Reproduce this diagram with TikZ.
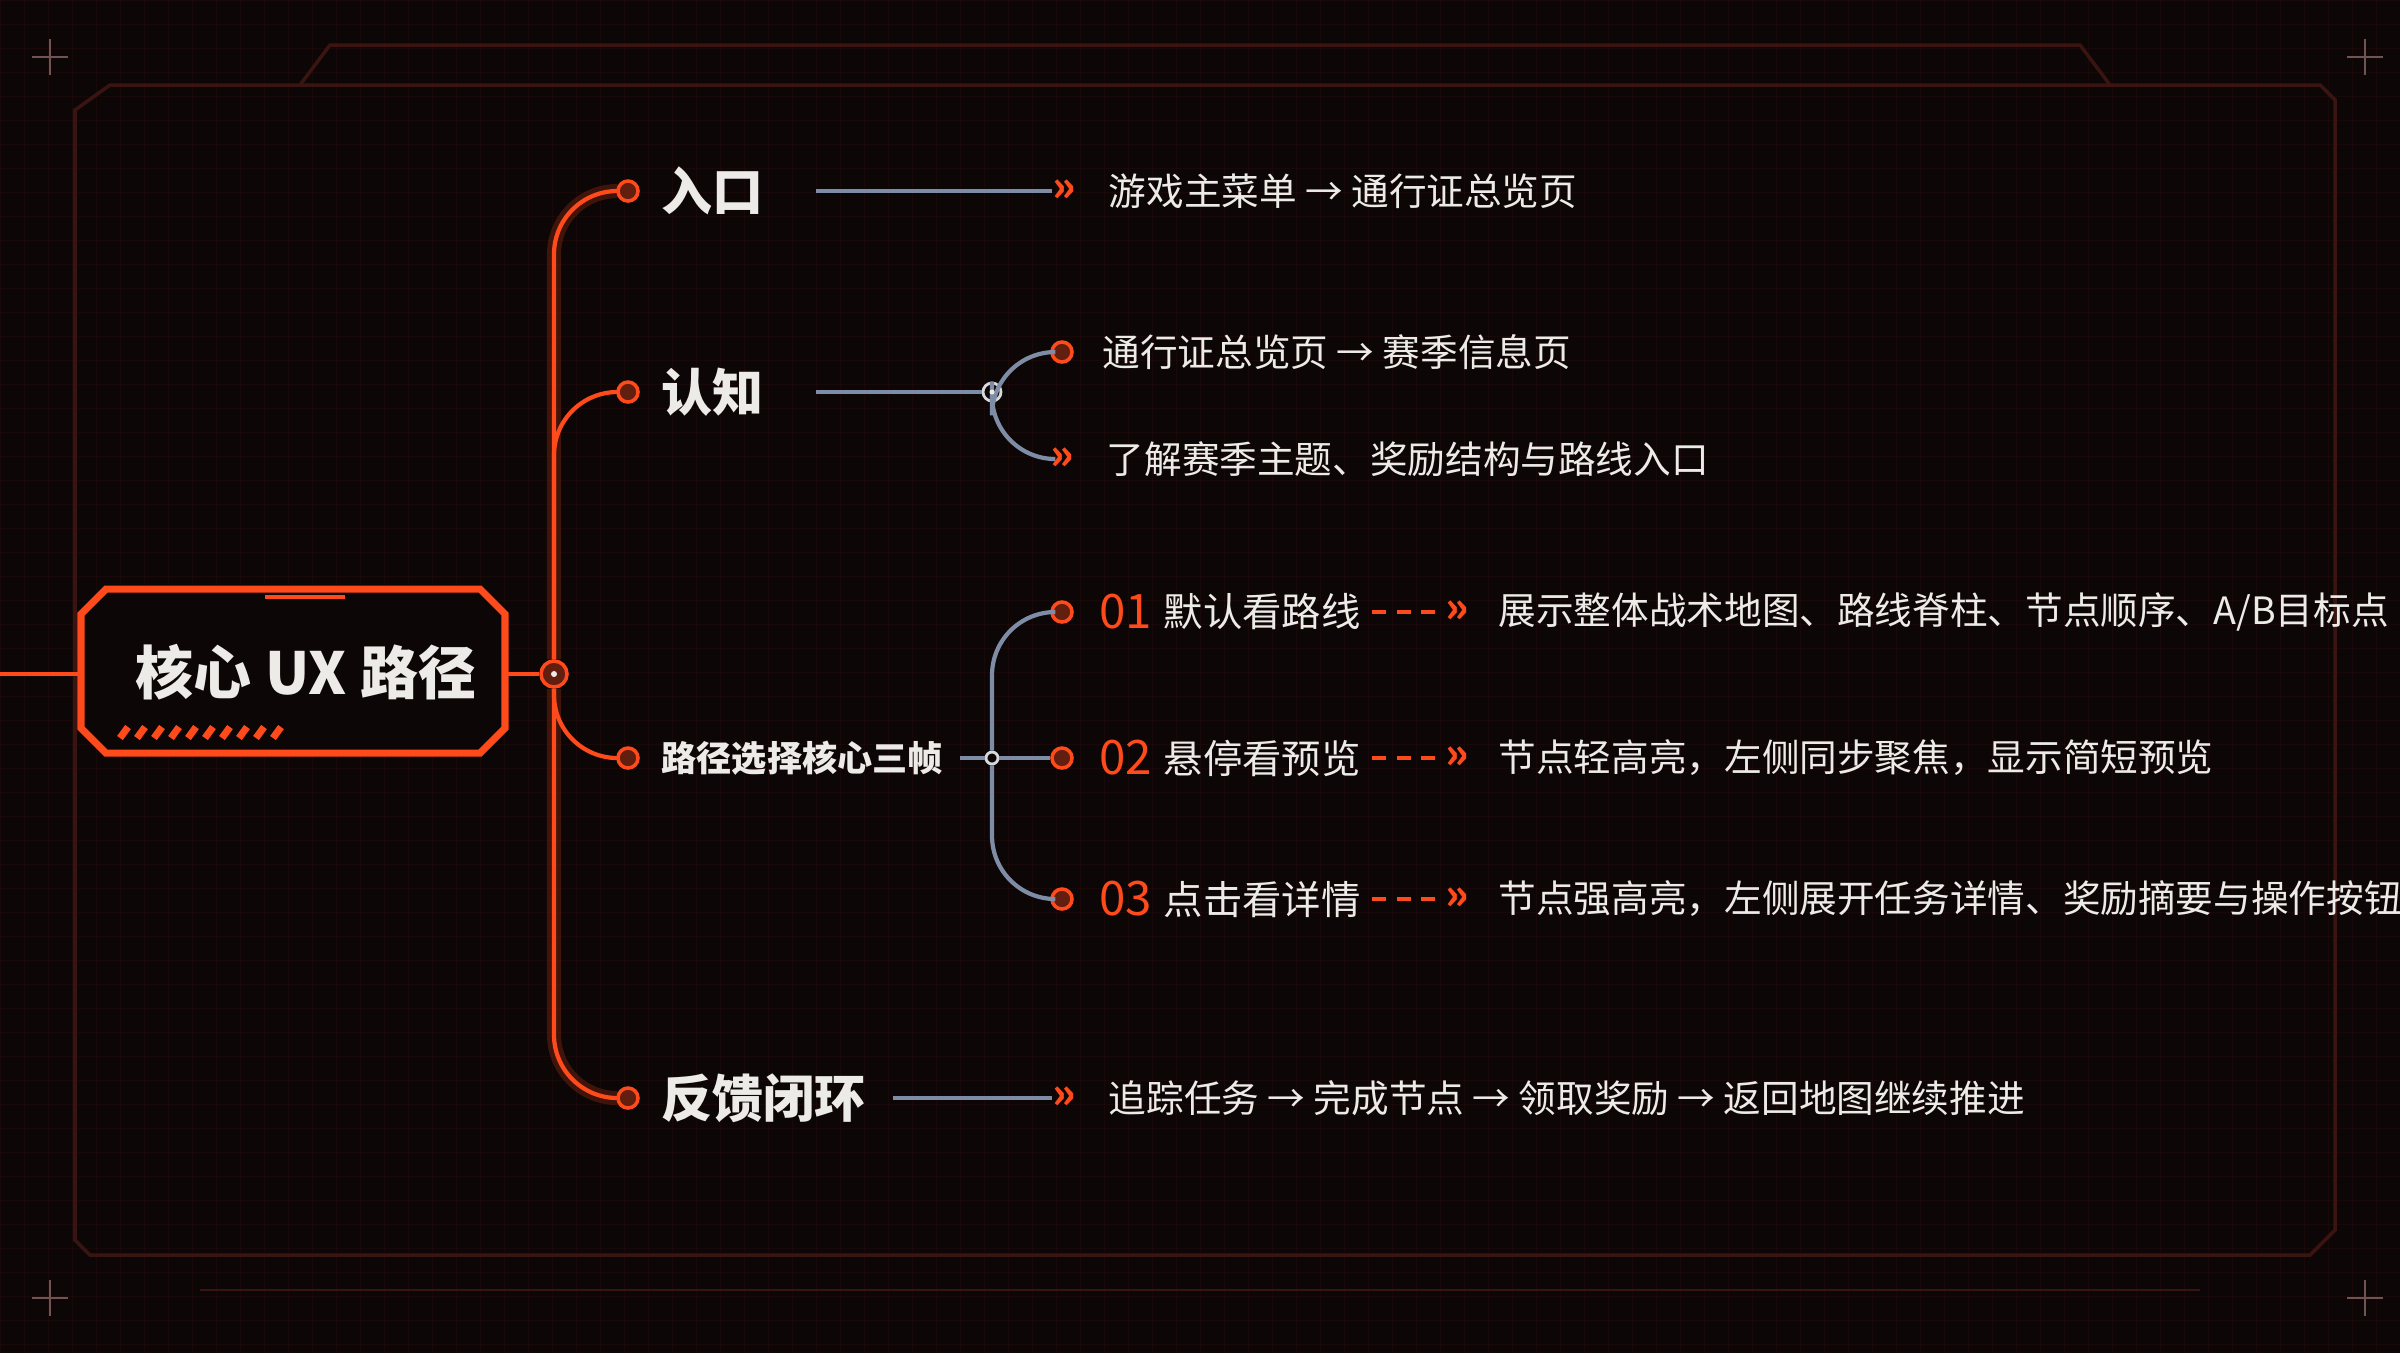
\documentclass[tikz,border=0pt]{standalone}
\usepackage{fontspec}
\setmainfont{Noto Sans CJK SC}
\usetikzlibrary{positioning}

\definecolor{bgdark}{HTML}{0D0606}
\definecolor{hudorange}{HTML}{FF4A1C}
\definecolor{hudgray}{HTML}{7F8CA6}
\definecolor{hudtext}{HTML}{EDEBE8}
\definecolor{hudframe}{HTML}{3A1410}

\begin{document}
\begin{tikzpicture}[x=0.01cm,y=-0.01cm,
        trunk/.style={hudorange,line width=1.2pt,rounded corners=18},
        glow/.style={hudorange!60!bgdark,line width=4pt,opacity=0.35,rounded corners=18},
        twig/.style={hudgray,line width=1.2pt,rounded corners=18},
        bullet/.style={circle,draw=hudorange,line width=1pt,fill=hudorange!35!bgdark,inner sep=0pt,minimum size=0.2cm},
        ghub/.style={circle,draw=hudtext!80!hudgray,line width=0.8pt,fill=bgdark,inner sep=0pt,minimum size=0.18cm},
        chev/.style={text=hudorange,font=\bfseries\large,inner sep=0pt},
        head/.style={text=hudtext,font=\bfseries\fontsize{14.5}{16}\selectfont,anchor=west,inner sep=0pt},
        leaf/.style={text=hudtext,font=\fontsize{10.7}{12}\selectfont,anchor=west,inner sep=0pt},
        frametext/.style={text=hudtext,font=\fontsize{11.2}{13}\selectfont,anchor=west,inner sep=0pt}]

        % background and frame
        \fill[bgdark] (0,0) rectangle (2400,1353);
        \useasboundingbox (0,0) rectangle (2400,1353);
        \foreach \gx in {0,24,...,2400} \draw[hudframe,opacity=0.25,line width=0.2pt] (\gx,0) -- (\gx,1353);
        \foreach \gy in {0,24,...,1353} \draw[hudframe,opacity=0.25,line width=0.2pt] (0,\gy) -- (2400,\gy);
        \draw[hudframe,line width=1pt] (110,85) -- (2320,85) -- (2335,100) -- (2335,1230) -- (2310,1255) -- (90,1255) -- (75,1240) -- (75,110) -- cycle;
        \draw[hudframe,line width=1pt] (300,85) -- (330,45) -- (2080,45) -- (2110,85);
        \draw[hudframe,line width=0.8pt] (200,1290) -- (2200,1290);
        \foreach \cx/\cy in {50/57,2365/57,50/1298,2365/1298}
            \draw[hudframe!70!hudtext,line width=0.8pt] (\cx-18,\cy) -- (\cx+18,\cy) (\cx,\cy-18) -- (\cx,\cy+18);

        % title box
        \fill[bgdark] (106,589) -- (480,589) -- (505,614) -- (505,728) -- (480,753) -- (106,753) -- (81,728) -- (81,614) -- cycle;
        \draw[hudorange,line width=2pt] (106,589) -- (480,589) -- (505,614) -- (505,728) -- (480,753) -- (106,753) -- (81,728) -- (81,614) -- cycle;
        \draw[hudorange,line width=1pt] (265,597) -- (345,597);
        \foreach \sx in {120,137,...,280} \draw[hudorange,line width=2pt] (\sx,738) -- (\sx+8,727);
        \node (core) [text=hudtext,font=\bfseries\fontsize{16.5}{19}\selectfont] at (306,672) {核心 UX 路径};
        \coordinate (stub) at (0,674);
        \coordinate (box) at (505,674);
        \draw[hudorange,line width=1.3pt] (stub) -- (81,674);

        % main trunk
        \path   (554,674) node (hub) [bullet,minimum size=0.26cm] {}
                (628,191) node (b1) [bullet] {}
                (628,392) node (b2) [bullet] {}
                (628,758) node (b3) [bullet] {}
                (628,1098) node (b4) [bullet] {};
        \draw[glow] (b1.west) -| (hub.north) (hub.south) |- (b4.west);
        \draw[trunk] (b1.west) -| (hub.north);
        \draw[trunk] (hub.south) |- (b4.west);
        \draw[trunk] (hub.south) |- (b3.west);
        \draw[trunk] (hub.north) |- (b2.west);
        \draw[trunk,rounded corners=0] (box) -- (hub);
        \fill[hudtext] (hub) circle (3);

        \node (entry) [head,right=6pt of b1] {入口};
        \node (know) [head,right=6pt of b2] {认知};
        \node (path) [head,font=\bfseries\fontsize{10}{12}\selectfont,right=6pt of b3] {路径选择核心三帧};
        \node (loop) [head,right=6pt of b4] {反馈闭环};

        % entry
        \path (1064,191) node (c1) [chev] {»};
        \node (t1) [leaf,right=9pt of c1] {游戏主菜单 → 通行证总览页};
        \draw[twig] (816,191) -- (c1.west);

        % cognition
        \path   (992,392) node (h2) [ghub] {}
                (1062,352) node (b21) [bullet] {}
                (1062,459) node (c22) [chev] {»};
        \draw[twig] (816,392) -- (h2);
        \draw[twig] (h2.north) |- (b21.west);
        \draw[twig] (h2.south) |- (c22.west);
        \fill[hudtext] (h2) circle (2.5);
        \node (t21) [leaf,right=8pt of b21] {通行证总览页 → 赛季信息页};
        \node (t22) [leaf,right=9pt of c22] {了解赛季主题、奖励结构与路线入口};

        % path selection frames
        \path   (992,758) node (h3) [ghub,minimum size=0.12cm] {}
                (1062,612) node (b31) [bullet] {}
                (1062,758) node (b32) [bullet] {}
                (1062,899) node (b33) [bullet] {};
        \draw[twig] (960,758) -- (h3);
        \draw[twig] (h3.north) |- (b31.west);
        \draw[twig] (h3.south) |- (b33.west);
        \draw[twig] (h3) -- (b32.west);
        \foreach \i/\num/\what/\info in {1/01/默认看路线/{展示整体战术地图、路线脊柱、节点顺序、A/B目标点},
                                         2/02/悬停看预览/{节点轻高亮，左侧同步聚焦，显示简短预览},
                                         3/03/点击看详情/{节点强高亮，左侧展开任务详情、奖励摘要与操作按钮}}
        {
            \node (n3\i) [frametext,right=7pt of b3\i,text=hudorange,font=\fontsize{13.5}{15}\selectfont] {\num};
            \node (s3\i) [frametext,right=3pt of n3\i] {\what};
            \path (s3\i.east) ++(96,0) node (d3\i) [chev] {»};
            \draw[hudorange,line width=1pt,dash pattern=on 4pt off 3pt] ([xshift=3pt]s3\i.east) -- (d3\i.west);
            \node (i3\i) [leaf,right=8pt of d3\i] {\info};
        }

        % feedback loop
        \path (1064,1098) node (c4) [chev] {»};
        \node (t4) [leaf,right=9pt of c4] {追踪任务 → 完成节点 → 领取奖励 → 返回地图继续推进};
        \draw[twig] (893,1098) -- (c4.west);

\end{tikzpicture}
\end{document}
